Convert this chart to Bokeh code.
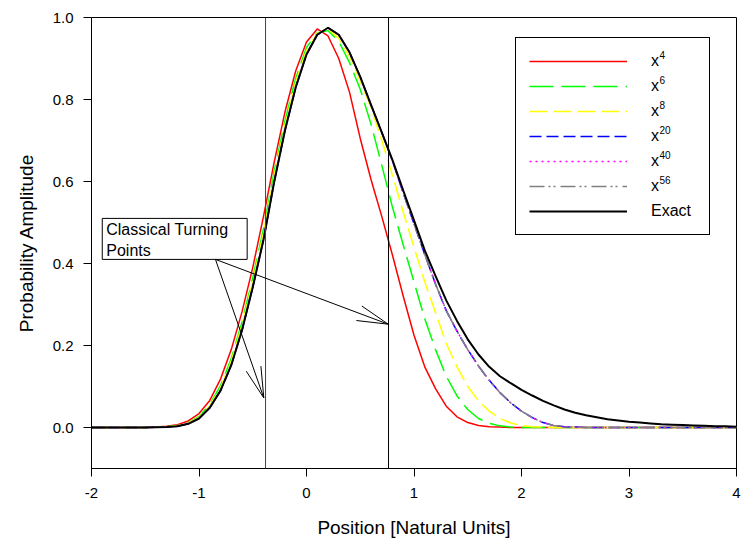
import math
from bokeh.plotting import figure
from bokeh.models import (Span, Legend, LegendItem, Label, BoxAnnotation,
                          FixedTicker, NumeralTickFormatter, Arrow)
from bokeh.embed import file_html
from bokeh.resources import INLINE

# ---------------- data ----------------
x = [-2.0, -1.9, -1.8, -1.7, -1.6, -1.5, -1.4, -1.3, -1.2, -1.1,
     -1.0, -0.9, -0.8, -0.7, -0.6, -0.5, -0.4, -0.3, -0.2, -0.1,
     0.0, 0.1, 0.2, 0.3, 0.4, 0.5, 0.6, 0.7, 0.8, 0.9,
     1.0, 1.1, 1.2, 1.3, 1.4, 1.5, 1.6, 1.7, 1.8, 1.9,
     2.0, 2.1, 2.2, 2.3, 2.4, 2.5, 2.6, 2.7, 2.8, 2.9,
     3.0, 3.1, 3.2, 3.3, 3.4, 3.5, 3.6, 3.7, 3.8, 3.9, 4.0]

psi_x4 = [0, 0, 0, 0, 0, 0, 0.001, 0.003, 0.007, 0.016,
          0.034, 0.066, 0.118, 0.19, 0.282, 0.39, 0.515, 0.648, 0.77, 0.87,
          0.94, 0.972, 0.955, 0.9, 0.818, 0.705, 0.605, 0.515, 0.42, 0.32,
          0.225, 0.148, 0.095, 0.052, 0.026, 0.012, 0.005, 0.002, 0.001, 0,
          0, 0, 0, 0, 0, 0, 0, 0, 0, 0,
          0, 0, 0, 0, 0, 0, 0, 0, 0, 0, 0]

psi_x6 = [0, 0, 0, 0, 0, 0, 0.0007, 0.002, 0.005, 0.012,
          0.027, 0.056, 0.102, 0.168, 0.257, 0.365, 0.485, 0.625, 0.748, 0.852,
          0.927, 0.963, 0.968, 0.942, 0.89, 0.825, 0.74, 0.64, 0.537, 0.445,
          0.355, 0.265, 0.19, 0.125, 0.077, 0.044, 0.022, 0.01, 0.004, 0.001,
          0, 0, 0, 0, 0, 0, 0, 0, 0, 0,
          0, 0, 0, 0, 0, 0, 0, 0, 0, 0, 0]

psi_x8 = [0, 0, 0, 0, 0, 0, 0.0006, 0.0015, 0.004, 0.011,
          0.025, 0.053, 0.097, 0.162, 0.25, 0.355, 0.475, 0.615, 0.738, 0.843,
          0.92, 0.962, 0.972, 0.949, 0.905, 0.845, 0.78, 0.7, 0.615, 0.525,
          0.44, 0.355, 0.28, 0.205, 0.148, 0.1, 0.065, 0.04, 0.022, 0.011,
          0.005, 0.002, 0.001, 0, 0, 0, 0, 0, 0, 0,
          0, 0, 0, 0, 0, 0, 0, 0, 0, 0, 0]

psi_x20 = [0, 0, 0, 0, 0, 0, 0.0005, 0.001, 0.003, 0.009,
           0.022, 0.048, 0.09, 0.152, 0.237, 0.342, 0.458, 0.6, 0.725, 0.83,
           0.91, 0.958, 0.975, 0.958, 0.915, 0.855, 0.787, 0.72, 0.65, 0.572,
           0.497, 0.422, 0.35, 0.285, 0.235, 0.19, 0.15, 0.115, 0.085, 0.06,
           0.04, 0.024, 0.012, 0.005, 0.002, 0.001, 0, 0, 0, 0,
           0, 0, 0, 0, 0, 0, 0, 0, 0, 0, 0]

psi_x40 = [0, 0, 0, 0, 0, 0, 0.0005, 0.001, 0.003, 0.009,
           0.022, 0.048, 0.09, 0.152, 0.237, 0.342, 0.458, 0.6, 0.725, 0.83,
           0.91, 0.958, 0.975, 0.958, 0.915, 0.855, 0.787, 0.72, 0.65, 0.572,
           0.497, 0.422, 0.35, 0.285, 0.235, 0.19, 0.15, 0.115, 0.085, 0.06,
           0.04, 0.024, 0.012, 0.005, 0.002, 0.001, 0, 0, 0, 0,
           0, 0, 0, 0, 0, 0, 0, 0, 0, 0, 0]

psi_x56 = [0, 0, 0, 0, 0, 0, 0.0005, 0.001, 0.003, 0.009,
           0.022, 0.048, 0.09, 0.152, 0.237, 0.342, 0.458, 0.6, 0.725, 0.83,
           0.91, 0.958, 0.975, 0.958, 0.915, 0.855, 0.787, 0.72, 0.65, 0.572,
           0.497, 0.422, 0.35, 0.285, 0.235, 0.19, 0.15, 0.115, 0.085, 0.06,
           0.04, 0.024, 0.012, 0.005, 0.002, 0.001, 0, 0, 0, 0,
           0, 0, 0, 0, 0, 0, 0, 0, 0, 0, 0]

psi_exact = [0, 0, 0, 0, 0, 0, 0.0005, 0.001, 0.003, 0.009,
             0.022, 0.048, 0.09, 0.152, 0.237, 0.342, 0.458, 0.6, 0.725, 0.83,
             0.91, 0.958, 0.975, 0.958, 0.915, 0.855, 0.787, 0.72, 0.652, 0.578,
             0.505, 0.432, 0.37, 0.31, 0.26, 0.215, 0.178, 0.148, 0.125, 0.108,
             0.092, 0.078, 0.065, 0.054, 0.044, 0.036, 0.03, 0.025, 0.02, 0.017,
             0.014, 0.012, 0.01, 0.008, 0.007, 0.006, 0.005, 0.004, 0.003, 0.003, 0.002]

series_base = ["x", "x", "x", "x", "x", "x", "Exact"]
series_powers = ["4", "6", "8", "20", "40", "56", ""]
turning_points = [-0.381, 0.763]
x_ticks = [-2, -1, 0, 1, 2, 3, 4]
y_ticks = [0.0, 0.2, 0.4, 0.6, 0.8, 1.0]

# ---------------- figure ----------------
FONT = "Liberation Sans"
W, H = 743, 546
ML, MR, MT, MB = 91, 7, 17, 78
X0, X1, Y0, Y1 = -2, 4, -0.1, 1.0
FW = W - ML - MR
FH = H - MT - MB

p = figure(width=W, height=H, x_range=(X0, X1), y_range=(Y0, Y1),
           output_backend="svg", toolbar_location=None,
           min_border_left=ML, min_border_right=MR,
           min_border_top=MT, min_border_bottom=MB)
p.grid.visible = False
p.outline_line_color = "black"
p.outline_line_width = 1
p.outline_line_alpha = 1
p.background_fill_color = "white"
p.border_fill_color = "white"

for ax in (p.xaxis[0], p.yaxis[0]):
    ax.axis_line_color = "black"
    ax.major_tick_line_color = "black"
    ax.major_tick_in = 0
    ax.major_tick_out = 8
    ax.minor_tick_in = 0
    ax.minor_tick_out = 0
    ax.major_label_text_font = FONT
    ax.major_label_text_font_size = "15px"
    ax.major_label_text_color = "black"
    ax.axis_label_text_font = FONT
    ax.axis_label_text_font_size = "19px"
    ax.axis_label_text_font_style = "normal"
    ax.axis_label_text_color = "black"

p.xaxis.ticker = FixedTicker(ticks=x_ticks)
p.xaxis.formatter = NumeralTickFormatter(format="0")
p.xaxis.major_label_standoff = 11
p.xaxis.axis_label = "Position [Natural Units]"
p.xaxis.axis_label_standoff = 16
p.yaxis.ticker = FixedTicker(ticks=y_ticks)
p.yaxis.formatter = NumeralTickFormatter(format="0.0")
p.yaxis.major_label_standoff = 10
p.yaxis.axis_label = "Probability Amplitude"
p.yaxis.axis_label_standoff = 13

# turning points
p.add_layout(Span(location=turning_points[0], dimension="height", line_color="#444444", line_width=1))
p.add_layout(Span(location=turning_points[1], dimension="height", line_color="black", line_width=1))

styles = [
    (psi_x4, "#ff0000", 1.5, "solid"),
    (psi_x6, "#00ff00", 1.5, "24 8"),
    (psi_x8, "#ffff00", 1.5, "18 6"),
    (psi_x20, "#0000ff", 1.5, "12 5"),
    (psi_x40, "#ff00ff", 1.5, "2 4"),
    (psi_x56, "#808080", 1.5, "15 4 2 3 2 5"),
    (psi_exact, "black", 2, "solid"),
]
renderers = []
for ys, col, lw, dash in styles:
    r = p.line(x, ys, line_color=col, line_width=lw, line_dash=dash)
    renderers.append(r)

sx = FW / (X1 - X0)
sy = FH / (Y1 - Y0)


def px_to_data(px, py):
    return X0 + (px - ML) / sx, Y1 - (py - MT) / sy


# white backing for the legend (legend itself is transparent so exponents show)
lb_l, lb_t = px_to_data(515, 37)
lb_r, lb_b = px_to_data(708, 235)
p.add_layout(BoxAnnotation(left=lb_l, right=lb_r, top=lb_t, bottom=lb_b,
                           fill_color="white", fill_alpha=1, line_alpha=0))

legend = Legend(items=[LegendItem(label=lab, renderers=[r]) for lab, r in zip(series_base, renderers)],
                location=(424, 233), orientation="vertical",
                glyph_width=98, glyph_height=20, label_height=20, label_width=45,
                label_standoff=24, spacing=5, padding=13, margin=0,
                border_line_color="black", border_line_width=1, border_line_alpha=1,
                background_fill_color="white", background_fill_alpha=0,
                label_text_font=FONT, label_text_font_size="16px", label_text_color="black")
p.add_layout(legend)

# exponents for the legend labels
row0, pitch = 58.0, 25.0
for i, pw in enumerate(series_powers):
    if not pw:
        continue
    dx, dy = px_to_data(659.0, row0 + i * pitch - 4.0)
    p.add_layout(Label(x=dx, y=dy, text=pw, text_font=FONT, text_font_size="10px",
                       text_baseline="alphabetic", text_align="left", text_color="black"))

# annotation box + text
box_l, box_r, box_t, box_b = -1.9, -0.552, 0.51, 0.41
p.add_layout(BoxAnnotation(left=box_l, right=box_r, top=box_t, bottom=box_b,
                           fill_color="white", fill_alpha=1, line_color="black",
                           line_width=1, line_alpha=1))
p.add_layout(Label(x=box_l, y=box_t, x_offset=4, y_offset=-3, text="Classical Turning\nPoints",
                   text_font=FONT, text_font_size="16px", text_baseline="top",
                   text_align="left", text_color="black"))

# arrows with narrow open heads
tail = (-0.847, 0.410)
tips = [(-0.397, 0.072), (0.760, 0.252)]
HL, HA = 32.0, math.radians(14)
for tx, ty in tips:
    p.add_layout(Arrow(end=None, x_start=tail[0], y_start=tail[1], x_end=tx, y_end=ty,
                       line_color="black", line_width=1))
    ddx = (tail[0] - tx) * sx
    ddy = (tail[1] - ty) * sy
    ang = math.atan2(ddy, ddx)
    for s in (1, -1):
        hx = tx + HL * math.cos(ang + s * HA) / sx
        hy = ty + HL * math.sin(ang + s * HA) / sy
        p.add_layout(Arrow(end=None, x_start=tx, y_start=ty, x_end=hx, y_end=hy,
                           line_color="black", line_width=1))

open("out.html", "w").write(file_html(p, INLINE))
